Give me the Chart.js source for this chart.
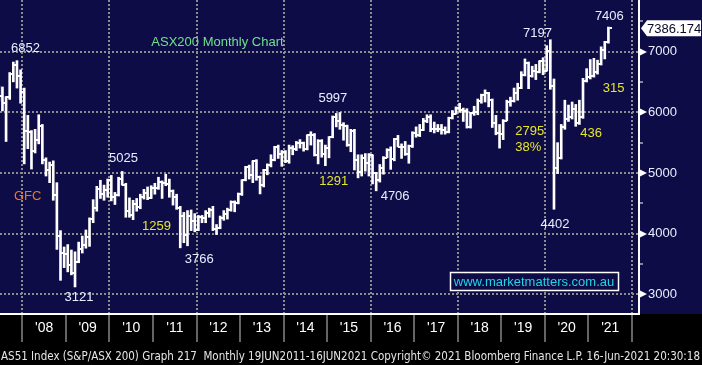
<!DOCTYPE html>
<html>
<head>
<meta charset="utf-8">
<script src="https://cdn.jsdelivr.net/npm/chart.js@4.4.1/dist/chart.umd.min.js"></script>
<style>
  html, body { margin: 0; padding: 0; background: #000; }
  #wrap { width: 702px; height: 365px; }
</style>
</head>
<body>
<div id="wrap"><canvas id="mychart" width="702" height="365"></canvas></div>
<script>
// ASX200 monthly bars, Jun 2007 .. Jun 2021
const startYear = 2007;
const startMonth = 6;

const opens = [
  6335, 6274, 6153, 6249, 6633, 6779, 6593,
  6340, 5697, 5675, 5355, 5548, 5773, 5215, 5051, 5129, 4630, 3962, 3673,
  3659, 3478, 3345, 3532, 3744, 3812, 3948, 4248, 4429, 4741, 4646, 4715,
  4883, 4596, 4642, 4893, 4808, 4374, 4301, 4494, 4436, 4608, 4676, 4584,
  4745, 4754, 4847, 4837, 4823, 4697, 4608, 4425, 4297, 3983, 4298, 4201,
  4057, 4268, 4263, 4335, 4396, 4077, 4095, 4265, 4316, 4387, 4517, 4506,
  4649, 4879, 5104, 4966, 5191, 4926, 4803, 5052, 5135, 5218, 5425, 5320,
  5352, 5190, 5405, 5395, 5489, 5492, 5396, 5623, 5625, 5292, 5527, 5313,
  5411, 5588, 5929, 5862, 5790, 5777, 5459, 5699, 5207, 5021, 5239, 5166,
  5296, 5005, 4880, 5082, 5252, 5378, 5233, 5562, 5433, 5436, 5317, 5440,
  5665, 5621, 5712, 5864, 5924, 5724, 5721, 5720, 5715, 5682, 5909, 5970,
  6065, 6037, 6016, 5759, 5983, 6011, 6195, 6280, 6320, 6208, 5830, 5667,
  5646, 5865, 6169, 6181, 6326, 6397, 6619, 6813, 6605, 6688, 6663, 6846,
  6684, 7017, 6441, 5077, 5242, 5756, 5898, 5928, 6061, 5816, 5928, 6518,
  6588, 6607, 6673, 6791, 7025, 7162
];
const highs = [
  6437, 6418, 6260, 6656, 6829, 6852, 6700,
  6400, 5950, 5700, 5720, 5960, 5800, 5250, 5180, 5200, 4840, 4050, 3780,
  3820, 3730, 3700, 3860, 3960, 4060, 4260, 4560, 4780, 4880, 4800, 4900,
  4960, 4680, 4930, 5025, 4830, 4590, 4550, 4580, 4650, 4730, 4770, 4790,
  4830, 4930, 4870, 4980, 4900, 4720, 4650, 4450, 4350, 4380, 4390, 4330,
  4300, 4300, 4380, 4420, 4450, 4150, 4290, 4380, 4420, 4540, 4540, 4670,
  4890, 5110, 5130, 5200, 5220, 4950, 5060, 5150, 5300, 5440, 5460, 5370,
  5370, 5460, 5450, 5520, 5550, 5510, 5630, 5680, 5650, 5550, 5550, 5460,
  5600, 5940, 5982, 5997, 5830, 5790, 5720, 5720, 5300, 5300, 5320, 5320,
  5300, 5010, 5140, 5270, 5400, 5430, 5570, 5620, 5480, 5520, 5460, 5680,
  5760, 5800, 5900, 5960, 5960, 5840, 5800, 5800, 5760, 5920, 6030, 6090,
  6150, 6070, 6060, 6000, 6100, 6220, 6300, 6370, 6330, 6220, 5950, 5800,
  5880, 6200, 6250, 6400, 6480, 6670, 6880, 6830, 6760, 6790, 6850, 6900,
  7100, 7197, 6550, 5500, 5800, 6200, 6120, 6170, 6130, 6200, 6560, 6720,
  6870, 6890, 6860, 7080, 7170, 7406
];
const lows = [
  6180, 6024, 5519, 6213, 6503, 6400, 6150,
  5150, 5400, 5065, 5330, 5480, 5150, 4950, 4840, 4550, 3740, 3230, 3440,
  3370, 3320, 3121, 3520, 3680, 3760, 3790, 4180, 4370, 4580, 4550, 4600,
  4540, 4480, 4620, 4800, 4270, 4270, 4230, 4370, 4410, 4570, 4560, 4580,
  4650, 4730, 4580, 4790, 4600, 4470, 4400, 3766, 3850, 3800, 4050, 4030,
  4050, 4180, 4180, 4270, 4050, 3985, 4080, 4220, 4240, 4370, 4360, 4490,
  4630, 4870, 4900, 4840, 4880, 4655, 4770, 4970, 5100, 5200, 5240, 5110,
  5170, 5160, 5300, 5370, 5410, 5360, 5380, 5460, 5280, 5150, 5260, 5120,
  5250, 5580, 5760, 5720, 5540, 5440, 5350, 5050, 4920, 4950, 5030, 4950,
  4820, 4706, 4850, 4980, 5250, 5060, 5200, 5430, 5240, 5290, 5160, 5420,
  5590, 5600, 5700, 5830, 5680, 5660, 5680, 5640, 5640, 5660, 5890, 5970,
  6000, 5850, 5740, 5740, 5950, 5960, 6150, 6170, 6090, 5750, 5630, 5410,
  5550, 5860, 6100, 6170, 6200, 6390, 6600, 6390, 6580, 6540, 6650, 6620,
  6680, 6380, 4402, 4990, 5230, 5720, 5850, 5890, 5770, 5800, 5900, 6500,
  6550, 6580, 6630, 6780, 6880, 7140
];
const closes = [
  6274, 6153, 6249, 6633, 6779, 6593, 6340,
  5697, 5675, 5355, 5548, 5773, 5215, 5051, 5129, 4630, 3962, 3673, 3659,
  3478, 3345, 3532, 3744, 3812, 3948, 4248, 4429, 4741, 4646, 4715, 4883,
  4596, 4642, 4893, 4808, 4374, 4301, 4494, 4436, 4608, 4676, 4584, 4745,
  4754, 4847, 4837, 4823, 4697, 4608, 4425, 4297, 3983, 4298, 4201, 4057,
  4268, 4263, 4335, 4396, 4077, 4095, 4265, 4316, 4387, 4517, 4506, 4649,
  4879, 5104, 4966, 5191, 4926, 4803, 5052, 5135, 5218, 5425, 5320, 5352,
  5190, 5405, 5395, 5489, 5492, 5396, 5623, 5625, 5292, 5527, 5313, 5411,
  5588, 5929, 5862, 5790, 5777, 5459, 5699, 5207, 5021, 5239, 5166, 5296,
  5005, 4880, 5082, 5252, 5378, 5233, 5562, 5433, 5436, 5317, 5440, 5665,
  5621, 5712, 5864, 5924, 5724, 5721, 5720, 5715, 5682, 5909, 5970, 6065,
  6037, 6016, 5759, 5983, 6011, 6195, 6280, 6320, 6208, 5830, 5667, 5646,
  5865, 6169, 6181, 6326, 6397, 6619, 6813, 6605, 6688, 6663, 6846, 6684,
  7017, 6441, 5077, 5242, 5756, 5898, 5928, 6061, 5816, 5928, 6518, 6588,
  6607, 6673, 6791, 7025, 7162, 7386.174
];
const lastPrice = 7386.174;

const yearTicks = [2008, 2009, 2010, 2011, 2012, 2013, 2014, 2015, 2016, 2017, 2018, 2019, 2020, 2021, 2022];
const priceTicks = [3000, 3500, 4000, 4500, 5000, 5500, 6000, 6500, 7000, 7500];

// colours
const WHITE = "#e8eeff";
const YELLOW = "#e6e628";
const NAVY = "#0e0c46";

// text on the chart (x in years, y in index points)
const notes = [
  { text: "ASX200 Monthly Chart", x: 2012.48, y: 7160, color: "#6fe08c" },
  { text: "6852", x: 2008.07, y: 7061, color: WHITE },
  { text: "5025", x: 2010.32, y: 5247, color: WHITE },
  { text: "GFC", x: 2008.12, y: 4620, color: "#e87a28" },
  { text: "3121", x: 2009.30, y: 2955, color: WHITE },
  { text: "1259", x: 2011.08, y: 4126, color: YELLOW },
  { text: "3766", x: 2012.06, y: 3582, color: WHITE },
  { text: "5997", x: 2015.13, y: 6236, color: WHITE },
  { text: "1291", x: 2015.15, y: 4868, color: YELLOW },
  { text: "4706", x: 2016.56, y: 4620, color: WHITE },
  { text: "7197", x: 2019.83, y: 7308, color: WHITE },
  { text: "7406", x: 2021.48, y: 7589, color: WHITE },
  { text: "315", x: 2021.58, y: 6401, color: YELLOW },
  { text: "2795", x: 2019.65, y: 5692, color: YELLOW },
  { text: "38%", x: 2019.62, y: 5428, color: YELLOW },
  { text: "436", x: 2021.06, y: 5659, color: YELLOW },
  { text: "4402", x: 2020.23, y: 4159, color: WHITE }
];
const siteNote = { text: "www.marketmatters.com.au", x: 2019.75, y: 3220 };
const footer = "AS51 Index (S&P/ASX 200) Graph 217  Monthly 19JUN2011-16JUN2021 Copyright\u00A9 2021 Bloomberg Finance L.P. 16-Jun-2021 20:30:18";

// month position in years
const xs = closes.map((c, i) => {
  const m = startMonth - 1 + i;
  return startYear + Math.floor(m / 12) + ((m % 12) + 0.5) / 12;
});

// small tick images for open (left) and close (right)
function tickImage(left) {
  const c = document.createElement("canvas");
  c.width = 8;
  c.height = 2;
  const g = c.getContext("2d");
  g.fillStyle = "#ffffff";
  g.fillRect(left ? 0 : 5, 0, 3, 2);
  return c;
}

// no extra room for tick labels, the plot fills the frame
function noPad(s) {
  s.paddingTop = 0;
  s.paddingBottom = 0;
  s.paddingLeft = 0;
  s.paddingRight = 0;
}

const bgPlugin = {
  id: "bg",
  beforeDraw(chart) {
    const { ctx, chartArea } = chart;
    ctx.save();
    ctx.fillStyle = "#000";
    ctx.fillRect(0, 0, chart.width, chart.height);
    ctx.fillStyle = NAVY;
    ctx.fillRect(0, 0, chart.width, chartArea.bottom);
    ctx.restore();
  }
};

const notesPlugin = {
  id: "notes",
  afterDraw(chart) {
    const { ctx, scales } = chart;
    const xS = scales.x, yS = scales.y;
    ctx.save();
    ctx.font = '13px "Liberation Sans", Arial, sans-serif';
    ctx.textAlign = "center";
    ctx.textBaseline = "middle";
    notes.forEach((n) => {
      ctx.fillStyle = n.color;
      ctx.fillText(n.text, xS.getPixelForValue(n.x), yS.getPixelForValue(n.y));
    });

    // website box
    const sx = xS.getPixelForValue(siteNote.x);
    const sy = yS.getPixelForValue(siteNote.y);
    const w = ctx.measureText(siteNote.text).width + 8;
    ctx.fillStyle = NAVY;
    ctx.fillRect(sx - w / 2, sy - 9, w, 18);
    ctx.strokeStyle = "#ffffff";
    ctx.lineWidth = 1.5;
    ctx.strokeRect(Math.round(sx - w / 2) + 0.5, Math.round(sy - 9) + 0.5, Math.round(w), 18);
    ctx.fillStyle = "#22d4e4";
    ctx.fillText(siteNote.text, sx, sy + 1);

    // arrows on the price axis
    const ax = yS.left;
    ctx.fillStyle = "#ffffff";
    priceTicks.filter((v) => v % 1000 === 0).forEach((v) => {
      const py = Math.round(yS.getPixelForValue(v));
      ctx.beginPath();
      ctx.moveTo(ax, py - 4);
      ctx.lineTo(ax + 8, py);
      ctx.lineTo(ax, py + 4);
      ctx.closePath();
      ctx.fill();
    });

    // last price box
    const py = yS.getPixelForValue(lastPrice);
    ctx.fillStyle = "#ffffff";
    ctx.beginPath();
    ctx.moveTo(ax + 2, py);
    ctx.lineTo(ax + 8, py - 8);
    ctx.lineTo(chart.width - 1, py - 8);
    ctx.lineTo(chart.width - 1, py + 8);
    ctx.lineTo(ax + 8, py + 8);
    ctx.closePath();
    ctx.fill();
    ctx.fillStyle = "#0a0a28";
    ctx.textAlign = "left";
    ctx.fillText(lastPrice.toFixed(3), ax + 8, py + 1);

    // footer line
    ctx.fillStyle = "#e6e6e6";
    ctx.font = '12px "Liberation Sans Narrow", "DejaVu Sans Condensed", "Liberation Sans", sans-serif';
    ctx.textAlign = "left";
    ctx.fillText(footer, 1, 357, 699);
    ctx.restore();
  }
};

const ctx = document.getElementById("mychart").getContext("2d");
const mychart = new Chart(ctx, {
  type: "bar",
  data: {
    datasets: [
      {
        type: "bar",
        data: xs.map((x, i) => ({ x: x, y: [lows[i], highs[i]] })),
        backgroundColor: "#ffffff",
        borderWidth: 0,
        barThickness: 2,
        grouped: false
      },
      {
        type: "scatter",
        data: xs.map((x, i) => ({ x: x, y: opens[i] })),
        pointStyle: tickImage(true),
        pointRadius: 3,
        pointBorderWidth: 0
      },
      {
        type: "scatter",
        data: xs.map((x, i) => ({ x: x, y: closes[i] })),
        pointStyle: tickImage(false),
        pointRadius: 3,
        pointBorderWidth: 0
      }
    ]
  },
  options: {
    responsive: false,
    animation: false,
    events: [],
    layout: { padding: 0, autoPadding: false },
    plugins: {
      legend: { display: false },
      tooltip: { enabled: false }
    },
    scales: {
      x: {
        type: "linear",
        min: 2007.4855,
        max: 2022.161,
        offset: false,
        grid: {
          offset: false,
          color: (c) => (c.tick && c.tick.value % 2 === 0 ? "#8c8c8c" : "rgba(0,0,0,0)"),
          lineWidth: 2,
          tickColor: "#c8c8c8",
          tickWidth: 1,
          tickLength: 28
        },
        border: { display: true, color: "#ffffff", width: 2, dash: [2, 2] },
        ticks: {
          color: "#ffffff",
          font: { family: "Liberation Sans", size: 14 },
          padding: -22,
          labelOffset: 21.8,
          maxRotation: 0,
          autoSkip: false,
          callback: (v) => (v < 2022 ? "'" + String(v).slice(2) : "")
        },
        afterBuildTicks: (s) => { s.ticks = yearTicks.map((v) => ({ value: v })); },
        afterFit: (s) => { s.height = 51; noPad(s); }
      },
      y: {
        position: "right",
        min: 2675,
        max: 7852,
        grid: {
          color: (c) => (c.tick && c.tick.value % 1000 === 0 ? "#8c8c8c" : "rgba(0,0,0,0)"),
          lineWidth: 2,
          tickColor: "#ffffff",
          tickWidth: 1,
          tickLength: 4
        },
        border: { display: true, color: "#ffffff", width: 2, dash: [2, 2] },
        ticks: {
          color: WHITE,
          font: { family: "Liberation Sans", size: 13 },
          padding: 5,
          callback: (v) => (v % 1000 === 0 ? String(v) : "")
        },
        afterBuildTicks: (s) => { s.ticks = priceTicks.map((v) => ({ value: v })); },
        afterFit: (s) => { s.width = 63; noPad(s); }
      }
    }
  },
  plugins: [bgPlugin, notesPlugin]
});
</script>
</body>
</html>
